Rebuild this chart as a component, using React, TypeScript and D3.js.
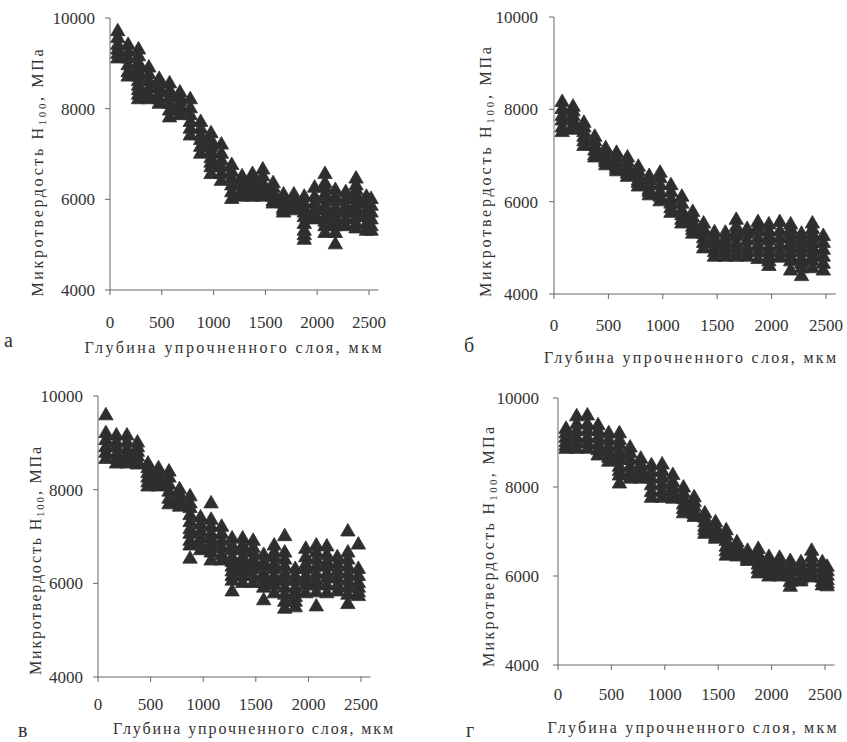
import React from "react";
import * as d3 from "d3";

// Depth of the hardened layer, µm (measurement columns)
const DEPTH = [75, 175, 275, 375, 475, 575, 675, 775, 875, 975, 1075, 1175, 1275, 1375, 1475, 1575, 1675, 1775, 1875, 1975, 2075, 2175, 2275, 2375, 2475, 2520];
const X_TICKS = [0, 500, 1000, 1500, 2000, 2500];
const Y_TICKS = [4000, 6000, 8000, 10000];

// Microhardness, MPa: one row of measurements per depth column
const HV_A = [
  [9700, 9550, 9400, 9300, 9200, 9100],
  [9400, 9250, 9100, 8950, 8800, 8700],
  [9300, 9150, 9000, 8900, 8800, 8700, 8600, 8500, 8400, 8300, 8200],
  [8900, 8750, 8600, 8450, 8300, 8200],
  [8650, 8550, 8450, 8350, 8200, 8100],
  [8550, 8400, 8250, 8100, 7950, 7800],
  [8350, 8250, 8150, 8050, 7950, 7850],
  [8200, 8000, 7850, 7700, 7550, 7400],
  [7700, 7550, 7400, 7300, 7150, 7000],
  [7450, 7300, 7250, 7150, 7050, 6900, 6800, 6700, 6550],
  [7200, 7000, 6850, 6700, 6550, 6400],
  [6750, 6600, 6450, 6300, 6150, 6000],
  [6500, 6400, 6300, 6200, 6100, 6050],
  [6550, 6450, 6350, 6250, 6150, 6050],
  [6650, 6500, 6350, 6250, 6150, 6050],
  [6350, 6250, 6150, 6050, 5950, 5900],
  [6100, 6000, 5900, 5800, 5750, 5700],
  [6100, 6000, 5900, 5850, 5800, 5750],
  [6050, 5900, 5800, 5700, 5600, 5450, 5300, 5200, 5100],
  [6250, 6050, 5900, 5750, 5650, 5550],
  [6550, 6350, 6250, 6100, 6000, 5850, 5750, 5600, 5500, 5400, 5250],
  [6200, 6050, 5950, 5800, 5700, 5600, 5500, 5400, 5250, 5000],
  [6150, 6000, 5850, 5700, 5550, 5400],
  [6450, 6300, 6200, 6100, 6000, 5900, 5800, 5700, 5600, 5450, 5350],
  [6050, 5900, 5750, 5600, 5450, 5300],
  [6000, 5850, 5700, 5550, 5400, 5300],
];

const HV_B = [
  [8150, 8000, 7850, 7750, 7600, 7500],
  [8050, 7950, 7850, 7750, 7650, 7550],
  [7700, 7600, 7500, 7400, 7300, 7200],
  [7400, 7300, 7200, 7100, 7000, 6950],
  [7150, 7050, 6950, 6900, 6850, 6780],
  [7050, 6950, 6850, 6750, 6700, 6650],
  [6950, 6850, 6750, 6650, 6600, 6530],
  [6750, 6650, 6550, 6450, 6400, 6320],
  [6550, 6450, 6350, 6250, 6200, 6130],
  [6620, 6500, 6350, 6200, 6100, 6000],
  [6350, 6200, 6050, 5950, 5850, 5750],
  [6100, 5950, 5800, 5700, 5600, 5520],
  [5770, 5650, 5550, 5450, 5380, 5300],
  [5520, 5400, 5300, 5200, 5100, 4980],
  [5330, 5200, 5100, 5000, 4900, 4800],
  [5320, 5200, 5100, 5000, 4900, 4800],
  [5600, 5450, 5350, 5250, 5100, 5000, 4900, 4800],
  [5400, 5300, 5150, 5000, 4900, 4800],
  [5550, 5450, 5350, 5200, 5050, 4900, 4750],
  [5500, 5350, 5250, 5150, 5000, 4900, 4800, 4700, 4600],
  [5550, 5350, 5200, 5050, 4900, 4780],
  [5500, 5400, 5300, 5200, 5100, 5000, 4900, 4800, 4700, 4500],
  [5300, 5200, 5100, 5000, 4900, 4750, 4650, 4550, 4380],
  [5520, 5400, 5300, 5200, 5100, 5000, 4900, 4800, 4700, 4550],
  [5250, 5100, 4950, 4800, 4650, 4500],
];

const HV_V = [
  [9580, 9200, 9050, 8900, 8780, 8650],
  [9150, 9000, 8900, 8750, 8650, 8550],
  [9150, 9000, 8850, 8750, 8650, 8550],
  [9000, 8900, 8800, 8700, 8600, 8530],
  [8550, 8450, 8350, 8250, 8150, 8060],
  [8450, 8350, 8250, 8200, 8130, 8060],
  [8380, 8250, 8100, 7950, 7800, 7680],
  [8000, 7900, 7800, 7750, 7700, 7630],
  [7850, 7700, 7600, 7450, 7300, 7150, 7050, 6900, 6800, 6520],
  [7400, 7250, 7100, 6950, 6820, 6700],
  [7700, 7350, 7200, 7050, 6950, 6850, 6750, 6650, 6480],
  [7200, 7050, 6900, 6750, 6600, 6480],
  [6950, 6800, 6700, 6550, 6450, 6350, 6250, 6150, 6050, 5820],
  [6950, 6800, 6700, 6550, 6450, 6350, 6250, 6150, 6000],
  [6900, 6750, 6650, 6500, 6400, 6300, 6150, 6000],
  [6600, 6450, 6350, 6200, 6100, 6000, 5900, 5630],
  [6800, 6650, 6550, 6400, 6300, 6150, 6050, 5950, 5780],
  [7000, 6650, 6500, 6350, 6200, 6050, 5900, 5750, 5600, 5450],
  [6300, 6150, 6050, 5900, 5800, 5700, 5600, 5480],
  [6730, 6550, 6400, 6300, 6150, 6050, 5950, 5780],
  [6800, 6650, 6500, 6350, 6200, 6050, 5950, 5800, 5500],
  [6780, 6600, 6450, 6350, 6200, 6100, 5950, 5780],
  [6550, 6400, 6250, 6100, 5950, 5820],
  [7100, 6650, 6500, 6350, 6200, 6050, 5900, 5750, 5550],
  [6820, 6300, 6150, 6000, 5900, 5800, 5720],
];

const HV_G = [
  [9300, 9200, 9100, 9000, 8920, 8850],
  [9580, 9400, 9250, 9100, 8980, 8850],
  [9600, 9400, 9250, 9100, 8980, 8850],
  [9380, 9250, 9100, 8950, 8820, 8700],
  [9200, 9050, 8900, 8780, 8650, 8560],
  [9200, 9050, 8950, 8800, 8700, 8600, 8450, 8350, 8250, 8070],
  [8880, 8750, 8600, 8450, 8300, 8180],
  [8630, 8500, 8400, 8300, 8230, 8180],
  [8480, 8330, 8180, 8030, 7880, 7750],
  [8500, 8350, 8200, 8050, 7900, 7750],
  [8260, 8100, 7980, 7880, 7800, 7730],
  [7980, 7850, 7720, 7600, 7500, 7400],
  [7760, 7650, 7550, 7450, 7380, 7320],
  [7400, 7300, 7200, 7100, 7020, 6940],
  [7200, 7100, 7000, 6950, 6880, 6830],
  [7020, 6900, 6780, 6650, 6550, 6450],
  [6750, 6680, 6600, 6530, 6480, 6430],
  [6560, 6500, 6450, 6400, 6360, 6330],
  [6600, 6480, 6350, 6250, 6150, 6050],
  [6420, 6330, 6250, 6150, 6060, 5980],
  [6400, 6320, 6230, 6150, 6060, 5980],
  [6330, 6200, 6100, 5980, 5860, 5750],
  [6300, 6200, 6100, 6000, 5930, 5870],
  [6560, 6420, 6300, 6180, 6070, 5960],
  [6300, 6180, 6060, 5950, 5860, 5780],
  [6200, 6100, 6000, 5900, 5820, 5760],
];

const X_TITLE = "Глубина упрочненного слоя, мкм";

// Layout of the four panels (pixel geometry only)
const PANELS = [
  { letter: "а", data: HV_A, left: 110, right: 369, top: 18, bottom: 290, tickEnd: 95, xTickY: 328,
    xTitle: { cx: 233, y: 353, len: 297 }, yTitle: { cx: 37, cy: 173, len: 247 }, lab: { x: 4, y: 347 } },
  { letter: "б", data: HV_B, left: 554, right: 826, top: 17, bottom: 294, tickEnd: 538, xTickY: 331,
    xTitle: { cx: 690, y: 363, len: 292 }, yTitle: { cx: 485, cy: 172, len: 250 }, lab: { x: 464, y: 352 } },
  { letter: "в", data: HV_V, left: 98, right: 361, top: 396, bottom: 677, tickEnd: 83, xTickY: 710,
    xTitle: { cx: 253, y: 734, len: 280 }, yTitle: { cx: 35, cy: 561, len: 228 }, lab: { x: 18, y: 737 } },
  { letter: "г", data: HV_G, left: 558, right: 825, top: 398, bottom: 665, tickEnd: 539, xTickY: 700,
    xTitle: { cx: 692, y: 733, len: 289 }, yTitle: { cx: 488, cy: 547, len: 240 }, lab: { x: 466, y: 737 } },
];

const FONT = "'Liberation Serif', 'Times New Roman', serif";
const INK = "#333";
const AXIS = "#666";
const MARK = "#2e2e2e";

const tri = d3.symbol().type(d3.symbolTriangle).size(90)();

function Panel({ p }: { p: any }) {
  const x = d3.scaleLinear().domain([0, 2500]).range([p.left, p.right]);
  const y = d3.scaleLinear().domain([4000, 10000]).range([p.bottom, p.top]);
  const pts: { d: number; v: number }[] = [];
  p.data.forEach((row: number[], i: number) => {
    row.forEach((v) => pts.push({ d: DEPTH[i], v }));
  });
  const ts = { fontFamily: FONT };
  return (
    <g>
      <line x1={x(0)} x2={x(0)} y1={y(4000)} y2={y(10000)} stroke={AXIS} strokeWidth={1} />
      <line x1={x(0)} x2={x(2590)} y1={y(4000)} y2={y(4000)} stroke={AXIS} strokeWidth={1} />
      {Y_TICKS.map((t) => (
        <g key={"y" + t}>
          <line x1={x(0) - 5} x2={x(0)} y1={y(t)} y2={y(t)} stroke={AXIS} />
          <text x={p.tickEnd} y={y(t)} dy="0.35em" textAnchor="end" fontSize={17} fill={INK} style={ts}>
            {t}
          </text>
        </g>
      ))}
      {X_TICKS.map((t) => (
        <g key={"x" + t}>
          <line x1={x(t)} x2={x(t)} y1={y(4000)} y2={y(4000) + 5} stroke={AXIS} />
          <text x={x(t)} y={p.xTickY} textAnchor="middle" fontSize={17} fill={INK} style={ts}>
            {t}
          </text>
        </g>
      ))}
      {pts.map((pt, i) => (
        <path key={i} d={tri as string} transform={`translate(${x(pt.d)},${y(pt.v)})`}
          fill={MARK} stroke={MARK} strokeWidth={0.8} strokeLinejoin="round" />
      ))}
      <text x={p.xTitle.cx} y={p.xTitle.y} textAnchor="middle" fontSize={16} fill={INK} style={ts}
        textLength={p.xTitle.len} lengthAdjust="spacing">
        {X_TITLE}
      </text>
      <text transform={`translate(${p.yTitle.cx},${p.yTitle.cy}) rotate(-90)`} textAnchor="middle"
        dy="0.35em" fontSize={16} fill={INK} style={ts} textLength={p.yTitle.len} lengthAdjust="spacing">
        Микротвердость H<tspan fontSize={11} dy="3">100</tspan><tspan dy="-3">, МПа</tspan>
      </text>
      <text x={p.lab.x} y={p.lab.y} fontSize={20} fill={INK} style={ts}>
        {p.letter}
      </text>
    </g>
  );
}

export default function App() {
  return (
    <svg width={847} height={742} style={{ position: "absolute", left: 0, top: 0, background: "#fff" }}>
      <rect width={847} height={742} fill="#fff" />
      {PANELS.map((p, i) => (
        <Panel key={i} p={p} />
      ))}
    </svg>
  );
}
